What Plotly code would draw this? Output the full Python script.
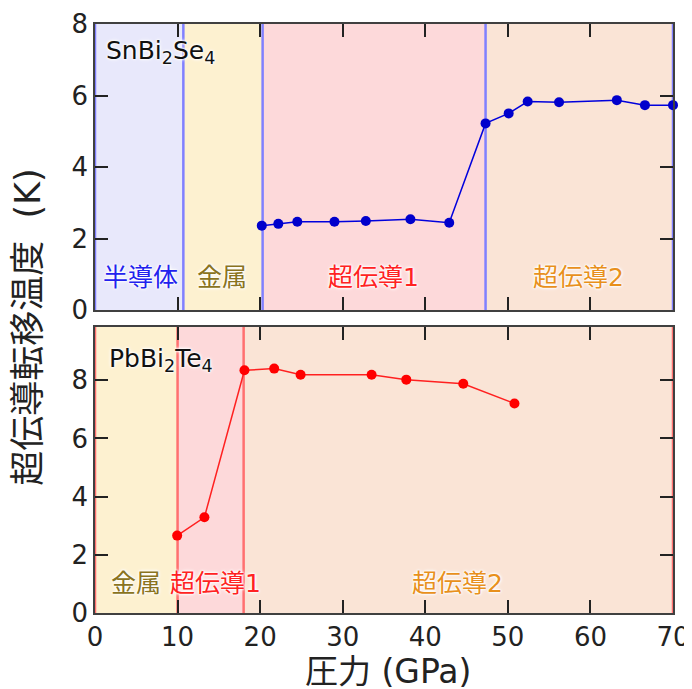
import plotly.graph_objects as go
from plotly.subplots import make_subplots

# ---- data ----
sn_pressure = [20.2, 22.2, 24.5, 29.0, 32.8, 38.2, 42.9, 47.3, 50.1, 52.4, 56.2, 63.2, 66.6, 70.0]
sn_tc = [2.36, 2.41, 2.47, 2.47, 2.49, 2.54, 2.44, 5.22, 5.50, 5.83, 5.81, 5.87, 5.73, 5.73]

pb_pressure = [9.95, 13.25, 18.1, 21.7, 24.9, 33.5, 37.7, 44.6, 50.8]
pb_tc = [2.66, 3.29, 8.34, 8.40, 8.19, 8.19, 8.02, 7.88, 7.20]

sn_bounds = [0, 10.7, 20.3, 47.3, 70]
sn_phases = ["半導体", "金属", "超伝導1", "超伝導2"]
pb_bounds = [0, 10.0, 18.0, 70]
pb_phases = ["金属", "超伝導1", "超伝導2"]

x_ticks = [0, 10, 20, 30, 40, 50, 60, 70]
y_ticks = [0, 2, 4, 6, 8]

# ---- styling ----
phase_fill = {"半導体": "#e8e8fb", "金属": "#fdf1d0", "超伝導1": "#fdd9da", "超伝導2": "#fae4d6"}
phase_text = {"半導体": "#2222ee", "金属": "#8a7320", "超伝導1": "#ff2222", "超伝導2": "#e8901c"}
FONT = "DejaVu Sans, Noto Sans CJK JP, sans-serif"
SHADOW = "0px 0px 2px white, 0px 0px 2px white, 0px 0px 3px white, 0px 0px 4px white"

fig = make_subplots(rows=2, cols=1, shared_xaxes=False, vertical_spacing=0.0288)

fig.add_trace(go.Scatter(x=sn_pressure, y=sn_tc, mode="lines+markers",
                         line=dict(color="#0000dd", width=1.5),
                         marker=dict(color="#0000cc", size=10, symbol="circle"),
                         cliponaxis=False, showlegend=False), row=1, col=1)
fig.add_trace(go.Scatter(x=pb_pressure, y=pb_tc, mode="lines+markers",
                         line=dict(color="#ff2020", width=1.5),
                         marker=dict(color="#ff0000", size=10, symbol="circle"),
                         cliponaxis=False, showlegend=False), row=2, col=1)

shapes = []
for bounds, phases, xr, yr, lc in [(sn_bounds, sn_phases, "x", "y domain", "#8080ff"),
                                   (pb_bounds, pb_phases, "x2", "y2 domain", "#ff7070")]:
    for i, ph in enumerate(phases):
        shapes.append(dict(type="rect", xref=xr, yref=yr, x0=bounds[i], x1=bounds[i + 1],
                           y0=0, y1=1, fillcolor=phase_fill[ph], line=dict(width=0), layer="below"))
    for b in bounds:
        shapes.append(dict(type="line", xref=xr, yref=yr, x0=b, x1=b, y0=0, y1=1,
                           line=dict(color=lc, width=2.5), layer="below"))
fig.update_layout(shapes=shapes)

ann = []
for ph, xx in zip(sn_phases, [5.5, 15.4, 33.7, 58.6]):
    ann.append(dict(x=xx, y=0.92, xref="x", yref="y", text=ph, showarrow=False,
                    font=dict(size=25, color=phase_text[ph], family=FONT, shadow=SHADOW)))
for ph, xx in zip(pb_phases, [5.0, 14.6, 43.9]):
    ann.append(dict(x=xx, y=1.0, xref="x2", yref="y2", text=ph, showarrow=False,
                    font=dict(size=25, color=phase_text[ph], family=FONT, shadow=SHADOW)))
ann.append(dict(x=7.9, y=7.22, xref="x", yref="y", text="SnBi<sub>2</sub>Se<sub>4</sub>",
                showarrow=False, font=dict(size=25, color="#111111", family=FONT, shadow=SHADOW)))
ann.append(dict(x=8.0, y=8.68, xref="x2", yref="y2", text="PbBi<sub>2</sub>Te<sub>4</sub>",
                showarrow=False, font=dict(size=25, color="#111111", family=FONT, shadow=SHADOW)))
ann.append(dict(x=-0.115, y=0.485, xref="paper", yref="paper", text="超伝導転移温度\u00a0\u00a0(K)",
                textangle=-90, showarrow=False, xanchor="center", yanchor="middle",
                font=dict(size=35, color="#222222", family=FONT)))
ann.append(dict(x=0.507, y=-0.0985, xref="paper", yref="paper", text="圧力 (GPa)",
                showarrow=False, xanchor="center", yanchor="middle",
                font=dict(size=33, color="#222222", family=FONT)))
fig.update_layout(annotations=ann)

axis_common = dict(showgrid=False, zeroline=False, showline=True, linecolor="#404040", linewidth=1.5,
                   mirror="ticks", ticks="inside", ticklen=13, tickwidth=1.5, tickcolor="#222222",
                   automargin=False,
                   tickfont=dict(size=26, color="#222222", family=FONT))
fig.update_xaxes(range=[0, 70], tickvals=x_ticks, **axis_common)
fig.update_xaxes(showticklabels=False, row=1, col=1)
fig.update_yaxes(tickvals=y_ticks, **axis_common)
fig.update_yaxes(range=[0, 8], row=1, col=1)
fig.update_yaxes(range=[0, 9.83], row=2, col=1)

# page body adds an 8px offset, so the figure is sized/margined to compensate
fig.update_layout(width=684, height=681, margin=dict(l=86.5, r=19, t=16, b=76, autoexpand=False),
                  plot_bgcolor="white", paper_bgcolor="white", font=dict(family=FONT))

fig.write_html("out.html")
